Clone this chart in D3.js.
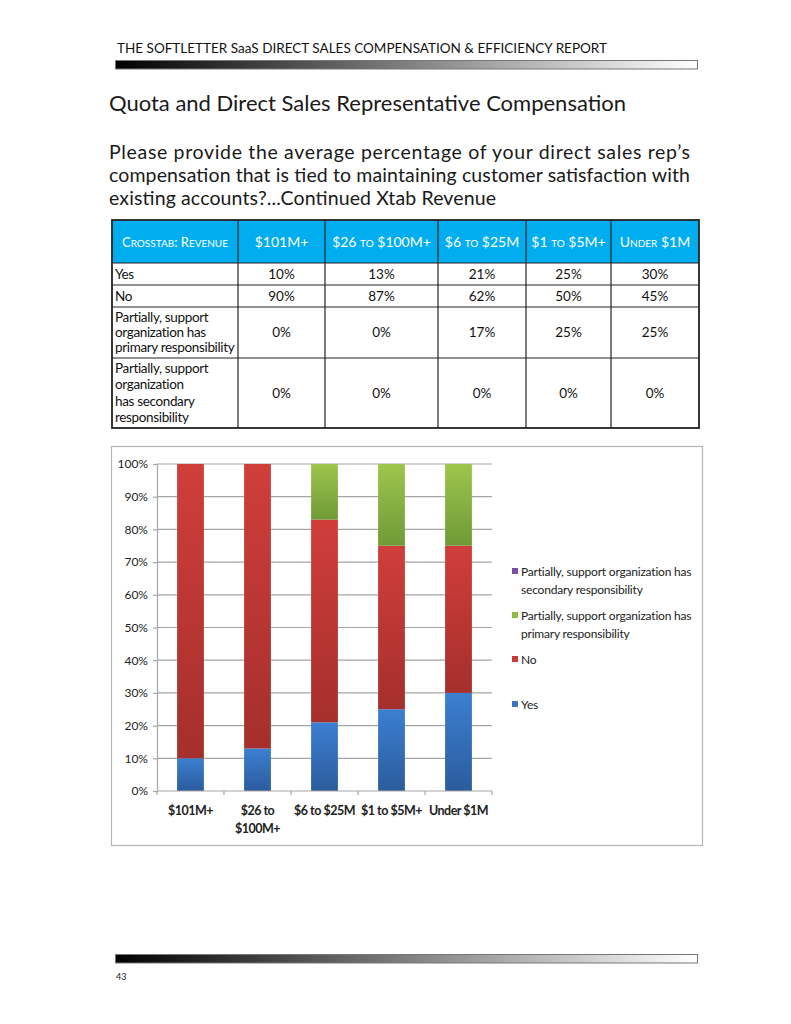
<!DOCTYPE html>
<html><head><meta charset="utf-8">
<script src="https://cdn.jsdelivr.net/npm/d3@7"></script>
<style>
html,body{margin:0;padding:0;background:#fff;}
svg{display:block;}
</style></head>
<body>
<svg id="page" width="791" height="1024"></svg>
<script>
// ---- data ----
const headerText = "THE SOFTLETTER SaaS DIRECT SALES COMPENSATION & EFFICIENCY REPORT";
const titleText = "Quota and Direct Sales Representative Compensation";
const subtitleLines = [
  "Please provide the average percentage of your direct sales rep\u2019s",
  "compensation that is tied to maintaining customer satisfaction with",
  "existing accounts?...Continued Xtab Revenue"
];
const categories = ["$101M+", "$26 to $100M+", "$6 to $25M", "$1 to $5M+", "Under $1M"];
const chartCatLabels = [["$101M+"], ["$26 to", "$100M+"], ["$6 to $25M"], ["$1 to $5M+"], ["Under $1M"]];
const seriesNames = ["Yes", "No", "Partially, support organization has primary responsibility", "Partially, support organization has secondary responsibility"];
const yesValues = [10, 13, 21, 25, 30];
const noValues = [90, 87, 62, 50, 45];
const primaryValues = [0, 0, 17, 25, 25];
const secondaryValues = [0, 0, 0, 0, 0];
const tableRowLabels = [
  ["Yes"], ["No"],
  ["Partially, support", "organization has", "primary responsibility"],
  ["Partially, support", "organization", "has secondary", "responsibility"]
];
const yTicks = [0, 10, 20, 30, 40, 50, 60, 70, 80, 90, 100];
const pageNumber = "43";

const svg = d3.select("#page");
const pageFont = "Lato, 'Noto Sans', sans-serif";
const chartFont = "Lato, 'Noto Sans', sans-serif";
const defs = svg.append("defs");

const hg = defs.append("linearGradient").attr("id", "hbar").attr("x1", 0).attr("x2", 1).attr("y1", 0).attr("y2", 0);
hg.append("stop").attr("offset", 0).attr("stop-color", "#000");
hg.append("stop").attr("offset", 1).attr("stop-color", "#fff");

svg.append("text").attr("x", 117).attr("y", 53).attr("font-family", pageFont).attr("font-size", 14)
  .attr("textLength", 490).attr("lengthAdjust", "spacingAndGlyphs").attr("fill", "#111").text(headerText);
svg.append("rect").attr("x", 115.5).attr("y", 60.5).attr("width", 582).attr("height", 8.5)
  .attr("fill", "url(#hbar)").attr("stroke", "#777").attr("stroke-width", 1);

svg.append("text").attr("x", 109).attr("y", 111).attr("font-family", pageFont).attr("font-size", 22)
  .attr("textLength", 517).attr("lengthAdjust", "spacingAndGlyphs").attr("fill", "#1a1a1a").text(titleText);

const subLen = [581, 581, 387];
subtitleLines.forEach((t, i) => {
  svg.append("text").attr("x", 109).attr("y", 159 + i * 23).attr("font-family", pageFont).attr("font-size", 19.5)
    .attr("textLength", subLen[i]).attr("lengthAdjust", "spacing").attr("fill", "#1a1a1a").text(t);
});

// ---- table ----
const colX = [112, 238, 325, 438, 526, 611, 699];
const rowY = [220, 263, 285, 307, 358, 428];
const tbl = svg.append("g");
tbl.append("rect").attr("x", colX[0]).attr("y", rowY[0]).attr("width", colX[6] - colX[0]).attr("height", rowY[1] - rowY[0]).attr("fill", "#00aeef");

function smallCaps(sel, parts) {
  parts.forEach(p => sel.append("tspan").attr("font-size", p[1]).text(p[0]));
}
const headerParts = [
  [["C", 13], ["ROSSTAB", 10], [": ", 13], ["R", 13], ["EVENUE", 10]],
  [["$101M+", 14]],
  [["$26 ", 14], ["TO", 10], [" $100M+", 14]],
  [["$6 ", 14], ["TO", 10], [" $25M", 14]],
  [["$1 ", 14], ["TO", 10], [" $5M+", 14]],
  [["U", 14], ["NDER", 10], [" $1M", 14]]
];
headerParts.forEach((parts, i) => {
  const t = tbl.append("text").attr("x", (colX[i] + colX[i + 1]) / 2).attr("y", 247)
    .attr("text-anchor", "middle").attr("font-family", pageFont).attr("fill", "#fff");
  smallCaps(t, parts);
});

const tableData = [yesValues, noValues, primaryValues, secondaryValues];
tableRowLabels.forEach((lines, r) => {
  const y0 = rowY[r + 1], y1 = rowY[r + 2];
  const mid = (y0 + y1) / 2;
  const lh = r === 3 ? 16.3 : 15;
  lines.forEach((ln, k) => {
    tbl.append("text").attr("x", 115).attr("y", mid + (k - (lines.length - 1) / 2) * lh + 4.5)
      .attr("font-family", pageFont).attr("font-size", 13.5).attr("letter-spacing", -0.35).attr("fill", "#111").text(ln);
  });
  tableData[r].forEach((v, c) => {
    tbl.append("text").attr("x", (colX[c + 1] + colX[c + 2]) / 2).attr("y", mid + 4.5)
      .attr("text-anchor", "middle").attr("font-family", pageFont).attr("font-size", 13.5).attr("fill", "#111").text(v + "%");
  });
});
rowY.slice(1, -1).forEach(y => tbl.append("line").attr("x1", colX[0]).attr("x2", colX[6]).attr("y1", y).attr("y2", y).attr("stroke", "#222").attr("stroke-width", 1));
colX.slice(1, -1).forEach(x => tbl.append("line").attr("x1", x).attr("x2", x).attr("y1", rowY[0]).attr("y2", rowY[5]).attr("stroke", "#222").attr("stroke-width", 1.2));
tbl.append("rect").attr("x", colX[0]).attr("y", rowY[0]).attr("width", colX[6] - colX[0]).attr("height", rowY[5] - rowY[0])
  .attr("fill", "none").attr("stroke", "#222").attr("stroke-width", 1.8);

// ---- chart ----
svg.append("rect").attr("x", 111.5).attr("y", 446.5).attr("width", 591).attr("height", 399)
  .attr("fill", "#fff").attr("stroke", "#b5b5b5").attr("stroke-width", 1.2);

const plot = { left: 157, right: 492, top: 464, bottom: 791 };
const x = d3.scaleBand().domain(categories).range([plot.left, plot.right]).paddingInner(0.6).paddingOuter(0.3);
const y = d3.scaleLinear().domain([0, 100]).range([plot.bottom, plot.top]);

const chart = svg.append("g");
chart.append("g").selectAll("line").data(yTicks.filter(d => d > 0)).join("line")
  .attr("x1", plot.left).attr("x2", plot.right).attr("y1", d => y(d)).attr("y2", d => y(d))
  .attr("stroke", "#a6a6a6").attr("stroke-width", 1.2);

const colors = [
  { id: "gYes", top: "#3c7fd2", bot: "#2b5c9c", key: "#3b76c4" },
  { id: "gNo", top: "#d03e3a", bot: "#a52f2c", key: "#c83b37" },
  { id: "gPri", top: "#9dc64c", bot: "#6f9a37", key: "#8fbc45" },
  { id: "gSec", top: "#8563a8", bot: "#5e4380", key: "#7752a0" }
];
colors.forEach(c => {
  const g = defs.append("linearGradient").attr("id", c.id).attr("x1", 0).attr("x2", 0).attr("y1", 0).attr("y2", 1);
  g.append("stop").attr("offset", 0).attr("stop-color", c.top);
  g.append("stop").attr("offset", 1).attr("stop-color", c.bot);
});

const rows = categories.map((cat, i) => ({ cat, s0: yesValues[i], s1: noValues[i], s2: primaryValues[i], s3: secondaryValues[i] }));
const stack = d3.stack().keys(["s0", "s1", "s2", "s3"])(rows);
stack.forEach((layer, li) => {
  chart.append("g").selectAll("rect").data(layer).join("rect")
    .attr("x", d => x(d.data.cat)).attr("width", x.bandwidth())
    .attr("y", d => y(d[1])).attr("height", d => Math.max(0, y(d[0]) - y(d[1])))
    .attr("fill", `url(#${colors[li].id})`);
});

const yAxis = d3.axisLeft(y).tickValues(yTicks).tickSize(4).tickFormat(d => d + "%");
const ya = chart.append("g").attr("transform", `translate(${plot.left},0)`).call(yAxis);
ya.select(".domain").attr("stroke", "#a6a6a6").attr("stroke-width", 1.2);
ya.selectAll(".tick line").attr("stroke", "#a6a6a6").attr("stroke-width", 1.2);
ya.selectAll(".tick text").attr("font-family", chartFont).attr("font-size", 12).attr("fill", "#222").attr("x", -9);

chart.append("line").attr("x1", plot.left).attr("x2", plot.right).attr("y1", plot.bottom).attr("y2", plot.bottom)
  .attr("stroke", "#a6a6a6").attr("stroke-width", 1.2);
const step = x.step();
const bounds = d3.range(categories.length + 1).map(i => plot.left + i * step);
chart.append("g").selectAll("line").data(bounds).join("line")
  .attr("x1", d => d).attr("x2", d => d).attr("y1", plot.bottom).attr("y2", plot.bottom + 4)
  .attr("stroke", "#a6a6a6").attr("stroke-width", 1.2);
chartCatLabels.forEach((lines, i) => {
  const cx = x(categories[i]) + x.bandwidth() / 2;
  lines.forEach((ln, k) => {
    chart.append("text").attr("x", cx).attr("y", 815 + k * 18).attr("text-anchor", "middle")
      .attr("font-family", chartFont).attr("font-weight", "bold").attr("font-size", 12.5).attr("letter-spacing", -0.5)
      .attr("fill", "#222").text(ln);
  });
});

const legendItems = [
  { ci: 3, lines: ["Partially, support organization has", "secondary responsibility"], y: 572 },
  { ci: 2, lines: ["Partially, support organization has", "primary responsibility"], y: 616 },
  { ci: 1, lines: ["No"], y: 660 },
  { ci: 0, lines: ["Yes"], y: 705 }
];
legendItems.forEach(it => {
  chart.append("rect").attr("x", 512).attr("y", it.y - 4).attr("width", 6).attr("height", 6).attr("fill", colors[it.ci].key);
  it.lines.forEach((ln, k) => {
    chart.append("text").attr("x", 521).attr("y", it.y + 4 + k * 18).attr("font-family", chartFont)
      .attr("font-size", 12).attr("letter-spacing", -0.2).attr("fill", "#222").text(ln);
  });
});

svg.append("rect").attr("x", 115.5).attr("y", 954.5).attr("width", 582).attr("height", 8.5)
  .attr("fill", "url(#hbar)").attr("stroke", "#777").attr("stroke-width", 1);
svg.append("text").attr("x", 116).attr("y", 980).attr("font-family", pageFont).attr("font-size", 9).attr("fill", "#222").text(pageNumber);
</script>
</body></html>
